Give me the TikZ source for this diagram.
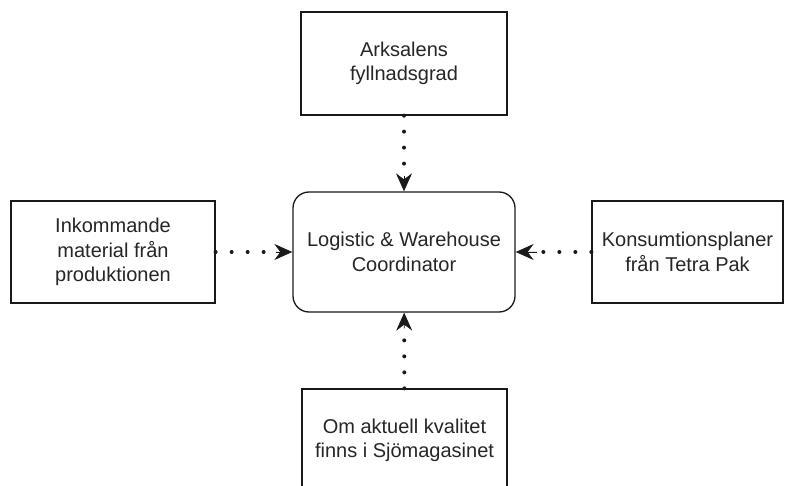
\documentclass[tikz,border=0pt]{standalone}
\usepackage{fontspec}
\setmainfont{Liberation Sans}
\usetikzlibrary{arrows.meta}
\begin{document}
\begin{tikzpicture}[x=1pt,y=-1pt,
  every node/.style={font=\fontsize{20}{24.5}\selectfont, text=black!85, align=center, inner sep=0pt},
  box/.style={draw=black!90, line width=1.3pt, fill=white, minimum width=#1, },
  dots/.style={line width=4pt, line cap=round, dash pattern=on 0pt off 16pt, draw=black!90},
  tip/.style={-{Stealth[length=18pt,width=16pt,inset=6pt]}, line width=0.8pt, draw=black!90, fill=black!90},
]
\useasboundingbox (0,0) rectangle (785,486);
% central actor
\node[box=222pt, minimum height=120pt, rounded corners=16pt] (lwc) at (404,252)
  {Logistic \& Warehouse\\Coordinator};
% information sources
\node[box=206pt, minimum height=103pt] (fill) at (404,63.5) {Arksalens\\fyllnadsgrad};
\node[box=204pt, minimum height=102pt] (inc) at (113,252) {Inkommande\\material från\\produktionen};
\node[box=191pt, minimum height=102pt] (plan) at (687.5,252) {Konsumtionsplaner\\från Tetra Pak};
\node[box=205pt, minimum height=103pt] (qual) at (404.5,440.5) {Om aktuell kvalitet\\finns i Sjömagasinet};
% dotted information flows, each ending in a solid arrow tip
\draw[dots, shorten >=18pt] (fill) -- (lwc);
\draw[dots, shorten >=18pt] (inc) -- (lwc);
\draw[dots, shorten >=18pt] (plan) -- (lwc);
\draw[dots, shorten >=18pt] (qual) -- (lwc);
\draw[tip, shorten <=60pt] (fill) -- (lwc);
\draw[tip, shorten <=60pt] (inc) -- (lwc);
\draw[tip, shorten <=54pt] (plan) -- (lwc);
\draw[tip, shorten <=60pt] (qual) -- (lwc);
\end{tikzpicture}
\end{document}
